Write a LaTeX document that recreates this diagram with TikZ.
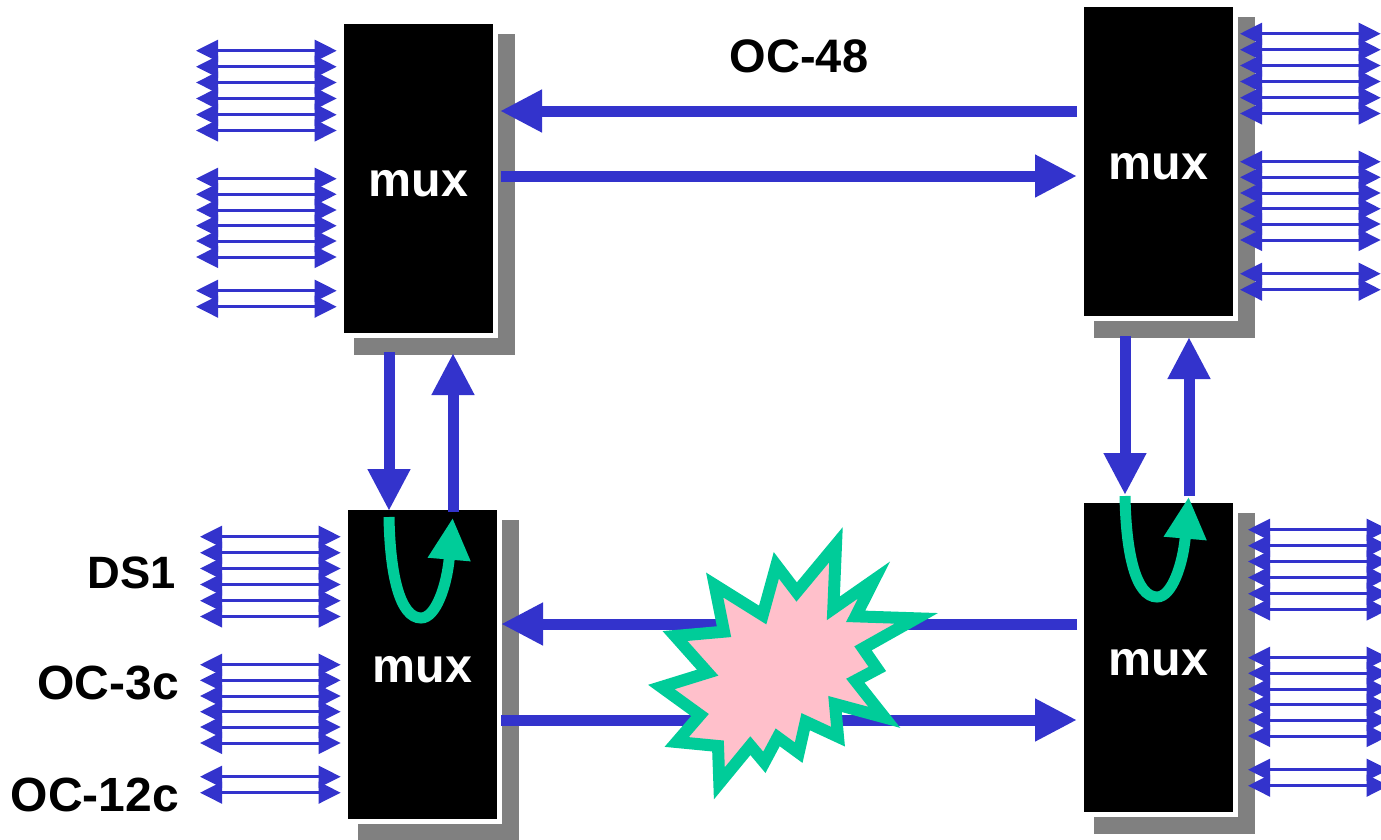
\documentclass[tikz,border=0pt]{standalone}
\usepackage{fontspec}
\setmainfont{Liberation Sans}
\usetikzlibrary{arrows.meta}
\definecolor{linkblue}{HTML}{3333CC}
\definecolor{alarmgreen}{HTML}{00CC99}
\definecolor{burstpink}{HTML}{FFC0CB}
\definecolor{shadowgrey}{HTML}{808080}
\tikzset{
  muxbox/.style={fill=black,text=white,minimum width=111.75pt,minimum height=231.75pt,inner sep=0pt,outer sep=0pt,
    font=\fontsize{36.3}{37}\selectfont\bfseries,text height=26.25pt,text depth=0pt},
  lbl/.style={font=\fontsize{35.25}{36}\selectfont\bfseries,inner sep=0pt,outer sep=0pt},
  lblb/.style={font=\fontsize{36}{37}\selectfont\bfseries,inner sep=0pt,outer sep=0pt},
  lblc/.style={font=\fontsize{34}{35}\selectfont\bfseries,inner sep=0pt,outer sep=0pt},
  mainlink/.style={draw=linkblue,line width=8.25pt,-{Triangle[length=31.5pt,width=30pt]}},
  stub/.style={draw=linkblue,line width=2.25pt,{Triangle[length=16.5pt,width=16pt]}-{Triangle[length=16.5pt,width=16pt]}},
  uturn/.style={draw=alarmgreen,line width=8.25pt,-{Triangle[length=31.5pt,width=30pt]}},
  burst/.style={draw=alarmgreen,fill=burstpink,line width=9pt,miter limit=20,line join=miter}
}
% name, left x, top y
\newcommand{\muxunit}[3]{%
  \fill[shadowgrey] (#2+10,#3+10) rectangle (#2+171,#3+331);
  \fill[white] (#2-5,#3-5) rectangle (#2+154,#3+314);
  \node[muxbox,anchor=north west] (#1) at (#2,#3) {mux};
}
% prefix, x offset, y offset
\newcommand{\stubgroup}[3]{%
  \foreach \n/\yy in {1/50.7,2/66.7,3/82.5,4/98.5,5/114.7,6/130.5,7/178.7,8/194.3,9/210,10/225.7,11/241,12/257,13/290.7,14/306.7}{
    \coordinate (#1l\n) at (196+#2,\yy+#3);
    \coordinate (#1r\n) at (336.7+#2,\yy+#3);
    \draw[stub] (#1l\n) -- (#1r\n);
  }
}
% name, x offset, y offset (relative to the lower-left unit)
\newcommand{\uturnarrow}[3]{%
  \coordinate (#1a) at (389+#2,517+#3);
  \coordinate (#1b) at (421+#2,618+#3);
  \coordinate (#1c) at (452.7+#2,517.7+#3);
  \draw[uturn] (#1a) .. controls (390+#2,575+#3) and (400+#2,618+#3) .. (#1b)
     .. controls (436+#2,618+#3) and (447+#2,585+#3) .. (#1c);
}
\begin{document}
\begin{tikzpicture}[x=0.75pt,y=-0.75pt]
\clip (0,0) rectangle (1381,839);
\muxunit{tl}{344}{24}
\muxunit{tr}{1084}{7}
\muxunit{bl}{348}{510}
\muxunit{br}{1084}{503}
\stubgroup{a}{0}{0}
\stubgroup{b}{1044}{-17}
\stubgroup{c}{4}{486}
\stubgroup{d}{1052}{479}
% horizontal links
\draw[mainlink,shorten <=5.25pt,shorten >=5.25pt] (tr.west |- 0,111) -- (tl.east |- 0,111);
\draw[mainlink,shorten <=6pt,shorten >=5.25pt] (tl.east |- 0,176) -- (tr.west |- 0,176);
\draw[mainlink,shorten <=5.25pt,shorten >=3pt] (br.west |- 0,624) -- (bl.east |- 0,624);
\draw[mainlink,shorten <=3pt,shorten >=5.25pt] (bl.east |- 0,720) -- (br.west |- 0,720);
% vertical links
\draw[mainlink,shorten <=14.25pt,shorten >=-0.75pt] (tl.south -| 389,0) -- (bl.north -| 389,0);
\draw[mainlink,shorten <=-1.5pt,shorten >=15pt] (bl.north -| 453,0) -- (tl.south -| 453,0);
\draw[mainlink,shorten <=15pt,shorten >=6pt] (tr.south -| 1125,0) -- (br.north -| 1125,0);
\draw[mainlink,shorten <=5.25pt,shorten >=15.75pt] (br.north -| 1189,0) -- (tr.south -| 1189,0);
% protection u-turns
\uturnarrow{u}{0}{0}
\uturnarrow{v}{736}{-21}
% failure burst
\begin{scope}[shift={(640,520)},x=0.25pt,y=-0.25pt]
\draw[burst] (588,74)--(580,265)--(702,180)--(647,289)--(829,295)--(669,385)--(712,447)--(646,482)
  --(733,592)--(585,552)--(594,650)--(497,605)--(476,698)--(413,652)--(373,727)--(331,677)
  --(238,790)--(234,678)--(110,666)--(180,585)--(64,501)--(203,458)--(105,348)--(252,335)
  --(224,195)--(368,285)--(409,136)--(470,216)--cycle;
\end{scope}
% labels
\node[lbl,anchor=base] (oc48) at (799,72) {OC-48};
\node[lblc,anchor=base east] (ds1) at (175.5,588) {DS1};
\node[lblb,anchor=base east] (oc3c) at (179,699.5) {OC-3c};
\node[lblb,anchor=base east] (oc12c) at (179,811) {OC-12c};
\end{tikzpicture}
\end{document}
